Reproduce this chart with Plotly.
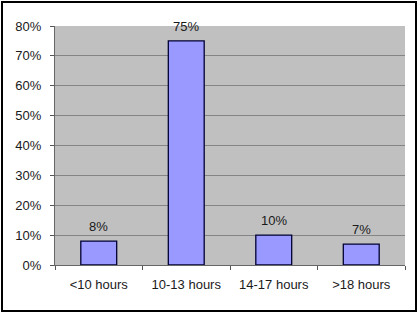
import plotly.graph_objects as go

categories = ["<10 hours", "10-13 hours", "14-17 hours", ">18 hours"]
values = [8, 75, 10, 7]
labels = ["8%", "75%", "10%", "7%"]
y_ticks = [0, 10, 20, 30, 40, 50, 60, 70, 80]
y_tick_labels = ["0%", "10%", "20%", "30%", "40%", "50%", "60%", "70%", "80%"]

FONT = "Liberation Sans, Arial, sans-serif"
TXT = "#1a1a1a"

fig = go.Figure(go.Bar(
    x=categories, y=values,
    marker=dict(color="#9999ff", line=dict(color="#000033", width=1.3)),
    width=0.41,
))

for c, v, t in zip(categories, values, labels):
    fig.add_annotation(x=c, y=v, text=t, showarrow=False, yanchor="bottom",
                       yshift=5, font=dict(family=FONT, size=13, color=TXT))

L, R, T, B = 55, 15, 26, 49
pw, ph = 420 - L - R, 314 - T - B

def px_x(p):
    return (p - L) / pw

def px_y(p):
    return (314 - B - p) / ph

fig.update_layout(
    width=420, height=314,
    margin=dict(l=L, r=R, t=T, b=B),
    paper_bgcolor="white",
    plot_bgcolor="#c0c0c0",
    showlegend=False,
    font=dict(family=FONT, size=13, color=TXT),
    xaxis=dict(
        showgrid=False, ticks="outside", tickson="boundaries",
        ticklen=4, tickcolor="#555", showline=True, linecolor="#666",
        tickfont=dict(size=13), ticklabelstandoff=7,
    ),
    yaxis=dict(
        range=[0, 80], tickvals=y_ticks, ticktext=y_tick_labels,
        showgrid=True, gridcolor="#858585", gridwidth=1,
        ticks="outside", ticklen=4, tickcolor="#555",
        showline=True, linecolor="#666", zeroline=False,
        tickfont=dict(size=13), ticklabelstandoff=6,
    ),
    shapes=[dict(
        type="rect", xref="paper", yref="paper",
        x0=px_x(2), x1=px_x(416), y0=px_y(311), y1=px_y(2),
        line=dict(color="black", width=2), fillcolor="rgba(0,0,0,0)",
        layer="below",
    )],
)

fig.write_html("out.html")
